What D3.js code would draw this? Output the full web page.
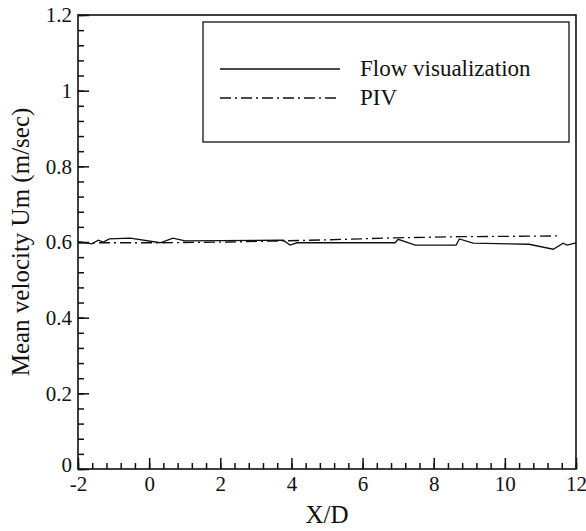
<!DOCTYPE html>
<html>
<head>
<meta charset="utf-8">
<script src="https://cdn.jsdelivr.net/npm/d3@7"></script>
<style>
  body { margin: 0; background: #fff; }
  svg text { font-family: "Liberation Serif", Tinos, "DejaVu Serif", "Noto Serif", "Times New Roman", Times, serif; fill: #111; }
</style>
</head>
<body>
<script>
// X/D positions and mean velocity (m/sec)
var flowX = [-2, -1.61, -1.43, -1.29, -1.12, -0.53, 0.31, 0.67, 1.01, 3.77, 3.96, 4.16, 6.92, 7.0, 7.48, 8.63, 8.72, 9.11, 10.68, 11.36, 11.64, 11.75, 12]
var flowU = [0.601, 0.595, 0.605, 0.600, 0.608, 0.610, 0.598, 0.610, 0.603, 0.605, 0.592, 0.598, 0.598, 0.607, 0.592, 0.592, 0.608, 0.597, 0.594, 0.581, 0.597, 0.592, 0.598]

var pivX = [-2, 0.31, 2.28, 3.77, 5.09, 6.92, 8.72, 11.47]
var pivU = [0.598, 0.598, 0.600, 0.603, 0.606, 0.611, 0.614, 0.616]

var xTicks = [-2, 0, 2, 4, 6, 8, 10, 12]
var yTicks = [0, 0.2, 0.4, 0.6, 0.8, 1, 1.2]
var legendNames = ["Flow visualization", "PIV"]

var W = 586, H = 531
var m = { left: 78, right: 10, top: 15, bottom: 62 }

var svg = d3.select("body").append("svg")
  .attr("width", W)
  .attr("height", H)

var x = d3.scaleLinear().domain([-2, 12]).range([m.left, W - m.right])
var y = d3.scaleLinear().domain([0, 1.2]).range([H - m.bottom, m.top])

// frame
svg.append("rect")
  .attr("x", x(-2)).attr("y", y(1.2))
  .attr("width", x(12) - x(-2)).attr("height", y(0) - y(1.2))
  .attr("fill", "none").attr("stroke", "#111").attr("stroke-width", 1.6)

// minor ticks (inward)
var xMinor = d3.range(-2, 12.001, 0.4)
var yMinor = d3.range(0, 1.2001, 0.04)

var xAxis = d3.axisBottom(x).tickValues(xTicks).tickFormat(function(d) { return String(d) }).tickSizeInner(-11).tickSizeOuter(0).tickPadding(7)
var xAxisMinor = d3.axisBottom(x).tickValues(xMinor).tickFormat("").tickSizeInner(-6).tickSizeOuter(0)
var yAxis = d3.axisLeft(y).tickValues(yTicks).tickFormat(function(d) { return String(d) }).tickSizeInner(-11).tickSizeOuter(0).tickPadding(6)
var yAxisMinor = d3.axisLeft(y).tickValues(yMinor).tickFormat("").tickSizeInner(-6).tickSizeOuter(0)

function styleAxis(g) {
  g.attr("font-family", null).attr("font-size", null)
  g.select(".domain").remove()
  g.selectAll("line").attr("stroke", "#111").attr("stroke-width", 1.5)
  g.selectAll("text").attr("font-size", 21).attr("fill", "#111")
}

svg.append("g").attr("transform", "translate(0," + y(0) + ")").call(xAxisMinor).call(styleAxis)
svg.append("g").attr("transform", "translate(0," + y(0) + ")").call(xAxis).call(styleAxis)
svg.append("g").attr("transform", "translate(" + x(-2) + ",0)").call(yAxisMinor).call(styleAxis)
svg.append("g").attr("transform", "translate(" + x(-2) + ",0)").call(yAxis).call(styleAxis)

// nudge the 0 label up a little, as in the figure
svg.selectAll("text").filter(function(d) { return d === 0 && this.getAttribute("x") !== null && this.getAttribute("x") < 0 })
  .attr("dy", "0.1em")

// axis titles
svg.append("text")
  .attr("x", (x(-2) + x(12)) / 2).attr("y", 523)
  .attr("text-anchor", "middle").attr("font-size", 25)
  .text("X/D")

svg.append("text")
  .attr("transform", "translate(29," + y(0.6) + ") rotate(-90)")
  .attr("text-anchor", "middle").attr("font-size", 25)
  .text("Mean velocity Um (m/sec)")

// lines
var line = d3.line()
  .x(function(d) { return x(d[0]) })
  .y(function(d) { return y(d[1]) })

var flowData = d3.zip(flowX, flowU)
var pivData = d3.zip(pivX, pivU)

svg.append("path").datum(pivData)
  .attr("d", line).attr("fill", "none")
  .attr("stroke", "#111").attr("stroke-width", 1.3)
  .attr("stroke-dasharray", "11,4,2,4")

svg.append("path").datum(flowData)
  .attr("d", line).attr("fill", "none")
  .attr("stroke", "#111").attr("stroke-width", 1.3)

// legend
var lg = svg.append("g")
lg.append("rect")
  .attr("x", 203).attr("y", 22).attr("width", 366).attr("height", 120)
  .attr("fill", "#fff").attr("stroke", "#111").attr("stroke-width", 1.3)

var dashes = [null, "11,4,2,4"]
legendNames.forEach(function(name, i) {
  var ly = 69 + i * 29
  lg.append("line")
    .attr("x1", 220).attr("x2", 340).attr("y1", ly).attr("y2", ly)
    .attr("stroke", "#111").attr("stroke-width", 1.3)
    .attr("stroke-dasharray", dashes[i])
  lg.append("text")
    .attr("x", 360).attr("y", ly + 7)
    .attr("font-size", 23)
    .text(name)
})
</script>
</body>
</html>
